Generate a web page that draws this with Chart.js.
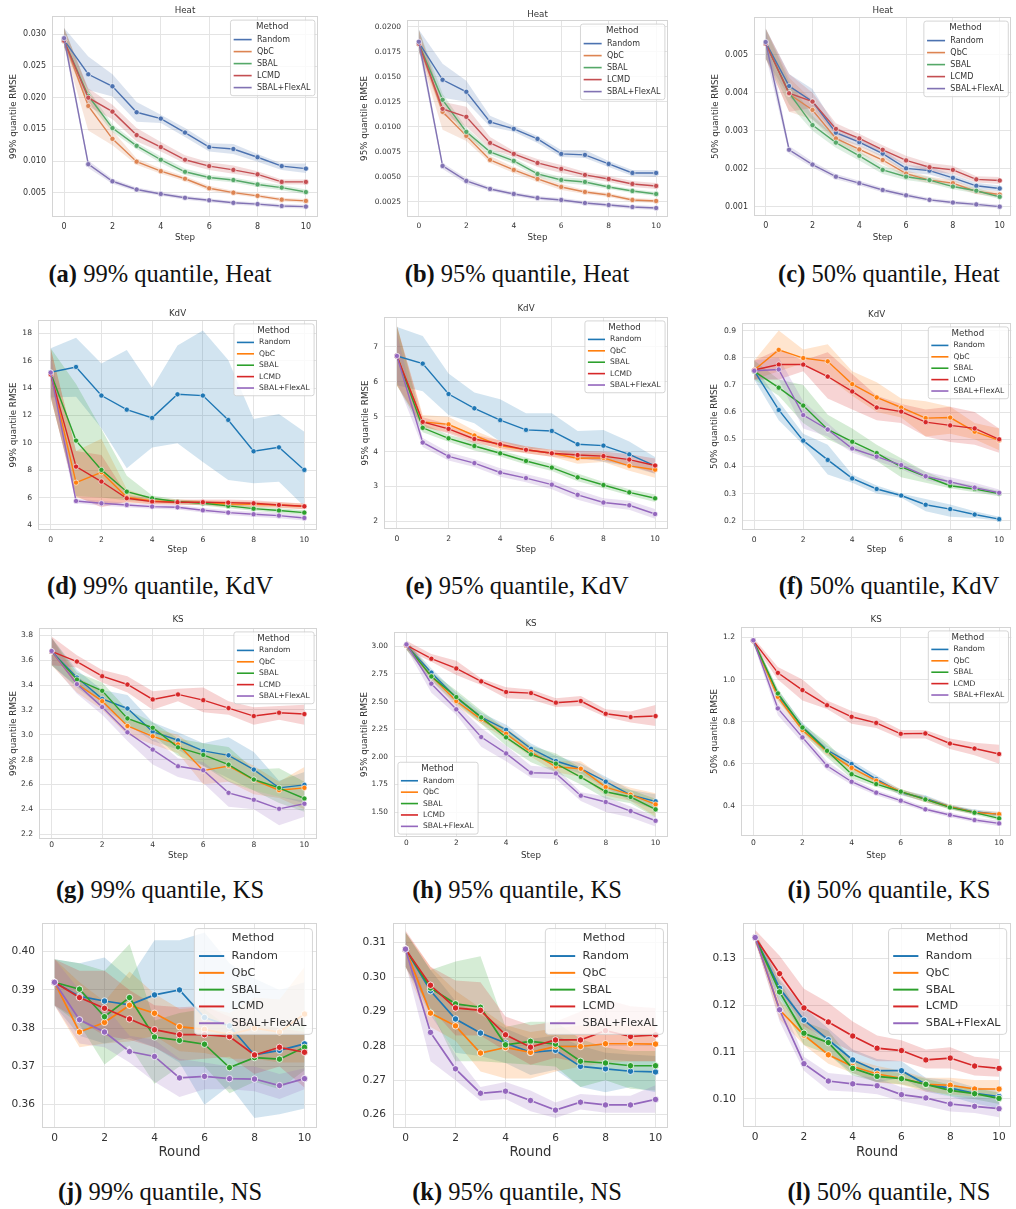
<!DOCTYPE html>
<html>
<head>
<meta charset="utf-8">
<script src="https://cdn.jsdelivr.net/npm/chart.js@4.4.1/dist/chart.umd.min.js"></script>
<style>
  html, body { margin: 0; padding: 0; background: #fff; overflow: hidden; }
  body { width: 1016px; height: 1209px; position: relative; }
  canvas { position: absolute; }
  .cap { position: absolute; width: 360px; text-align: center; font-family: "Liberation Serif", serif;
         font-size: 24.5px; color: #111; white-space: nowrap; line-height: 1; }
</style>
</head>
<body>
<script>
// shared x data
const steps = [0, 1, 2, 3, 4, 5, 6, 7, 8, 9, 10];
const xTicks = [0, 2, 4, 6, 8, 10];
const methods = ['Random', 'QbC', 'SBAL', 'LCMD', 'SBAL+FlexAL'];

// (a) Heat, 99% quantile
const heat99Ticks = [0.005, 0.010, 0.015, 0.020, 0.025, 0.030];
const heat99Random   = [0.0291, 0.0237, 0.0218, 0.0177, 0.0167, 0.0145, 0.0122, 0.0119, 0.0106, 0.0092, 0.0088];
const heat99RandomLo = [0.0280, 0.0212, 0.0202, 0.0162, 0.0160, 0.0138, 0.0115, 0.0111, 0.0099, 0.0086, 0.0081];
const heat99RandomHi = [0.0310, 0.0265, 0.0237, 0.0193, 0.0173, 0.0152, 0.0128, 0.0127, 0.0111, 0.0096, 0.0096];
const heat99Qbc      = [0.0290, 0.0187, 0.0135, 0.0099, 0.0084, 0.0072, 0.0057, 0.0050, 0.0045, 0.0039, 0.0037];
const heat99QbcLo    = [0.0280, 0.0148, 0.0125, 0.0094, 0.0080, 0.0068, 0.0053, 0.0047, 0.0042, 0.0036, 0.0034];
const heat99QbcHi    = [0.0310, 0.0212, 0.0148, 0.0104, 0.0088, 0.0076, 0.0061, 0.0053, 0.0048, 0.0042, 0.0040];
const heat99Sbal     = [0.0290, 0.0203, 0.0152, 0.0124, 0.0102, 0.0083, 0.0074, 0.0070, 0.0063, 0.0058, 0.0051];
const heat99SbalLo   = [0.0280, 0.0193, 0.0146, 0.0119, 0.0097, 0.0078, 0.0070, 0.0066, 0.0059, 0.0054, 0.0047];
const heat99SbalHi   = [0.0310, 0.0213, 0.0158, 0.0129, 0.0107, 0.0088, 0.0078, 0.0074, 0.0067, 0.0062, 0.0055];
const heat99Lcmd     = [0.0290, 0.0200, 0.0178, 0.0141, 0.0122, 0.0102, 0.0092, 0.0086, 0.0079, 0.0067, 0.0067];
const heat99LcmdLo   = [0.0280, 0.0186, 0.0166, 0.0131, 0.0115, 0.0096, 0.0086, 0.0080, 0.0074, 0.0063, 0.0063];
const heat99LcmdHi   = [0.0310, 0.0215, 0.0189, 0.0152, 0.0130, 0.0109, 0.0098, 0.0093, 0.0084, 0.0071, 0.0071];
const heat99Flex     = [0.0294, 0.0095, 0.0068, 0.0055, 0.0048, 0.0042, 0.0038, 0.0034, 0.0032, 0.0029, 0.0028];
const heat99FlexLo   = [0.0285, 0.0089, 0.0064, 0.0052, 0.0045, 0.0039, 0.0035, 0.0031, 0.0029, 0.0026, 0.0025];
const heat99FlexHi   = [0.0303, 0.0101, 0.0072, 0.0058, 0.0051, 0.0045, 0.0041, 0.0037, 0.0035, 0.0032, 0.0031];

// (b) Heat, 95% quantile
const heat95Ticks = [0.0025, 0.0050, 0.0075, 0.0100, 0.0125, 0.0150, 0.0175, 0.0200];
const heat95Random   = [0.0184, 0.0147, 0.0135, 0.0105, 0.0098, 0.0088, 0.0073, 0.0072, 0.0063, 0.0054, 0.0054];
const heat95RandomLo = [0.0175, 0.0129, 0.0125, 0.0100, 0.0095, 0.0084, 0.0070, 0.0069, 0.0060, 0.0051, 0.0050];
const heat95RandomHi = [0.0197, 0.0163, 0.0146, 0.0111, 0.0101, 0.0091, 0.0077, 0.0077, 0.0066, 0.0057, 0.0057];
const heat95Qbc      = [0.0183, 0.0115, 0.0091, 0.0067, 0.0057, 0.0048, 0.0040, 0.0035, 0.0032, 0.0027, 0.0026];
const heat95QbcLo    = [0.0175, 0.0097, 0.0086, 0.0064, 0.0054, 0.0045, 0.0037, 0.0033, 0.0030, 0.0025, 0.0024];
const heat95QbcHi    = [0.0197, 0.0122, 0.0096, 0.0071, 0.0060, 0.0051, 0.0043, 0.0037, 0.0034, 0.0029, 0.0028];
const heat95Sbal     = [0.0183, 0.0127, 0.0095, 0.0075, 0.0066, 0.0053, 0.0047, 0.0045, 0.0040, 0.0036, 0.0033];
const heat95SbalLo   = [0.0175, 0.0121, 0.0091, 0.0072, 0.0063, 0.0050, 0.0044, 0.0042, 0.0038, 0.0034, 0.0031];
const heat95SbalHi   = [0.0197, 0.0133, 0.0099, 0.0078, 0.0069, 0.0056, 0.0050, 0.0048, 0.0042, 0.0038, 0.0035];
const heat95Lcmd     = [0.0183, 0.0118, 0.0110, 0.0084, 0.0073, 0.0064, 0.0058, 0.0052, 0.0048, 0.0043, 0.0041];
const heat95LcmdLo   = [0.0175, 0.0112, 0.0100, 0.0078, 0.0070, 0.0060, 0.0054, 0.0049, 0.0045, 0.0040, 0.0038];
const heat95LcmdHi   = [0.0197, 0.0125, 0.0120, 0.0090, 0.0076, 0.0068, 0.0062, 0.0055, 0.0051, 0.0046, 0.0044];
const heat95Flex     = [0.0185, 0.0061, 0.0046, 0.0038, 0.0033, 0.0029, 0.0027, 0.0024, 0.0022, 0.0020, 0.0019];
const heat95FlexLo   = [0.0177, 0.0058, 0.0043, 0.0036, 0.0031, 0.0027, 0.0025, 0.0022, 0.0020, 0.0018, 0.0017];
const heat95FlexHi   = [0.0193, 0.0064, 0.0049, 0.0040, 0.0035, 0.0031, 0.0029, 0.0026, 0.0024, 0.0022, 0.0021];

// (c) Heat, 50% quantile
const heat50Ticks = [0.001, 0.002, 0.003, 0.004, 0.005];
const heat50Random   = [0.00533, 0.00418, 0.00377, 0.00295, 0.00270, 0.00240, 0.00201, 0.00195, 0.00176, 0.00155, 0.00148];
const heat50RandomLo = [0.00490, 0.00390, 0.00330, 0.00280, 0.00260, 0.00230, 0.00190, 0.00185, 0.00167, 0.00147, 0.00140];
const heat50RandomHi = [0.00570, 0.00450, 0.00410, 0.00310, 0.00280, 0.00250, 0.00210, 0.00205, 0.00185, 0.00163, 0.00156];
const heat50Qbc      = [0.00530, 0.00397, 0.00355, 0.00280, 0.00251, 0.00223, 0.00187, 0.00170, 0.00162, 0.00140, 0.00132];
const heat50QbcLo    = [0.00490, 0.00350, 0.00330, 0.00270, 0.00240, 0.00212, 0.00178, 0.00161, 0.00154, 0.00133, 0.00125];
const heat50QbcHi    = [0.00570, 0.00440, 0.00380, 0.00290, 0.00262, 0.00234, 0.00196, 0.00179, 0.00170, 0.00147, 0.00139];
const heat50Sbal     = [0.00530, 0.00400, 0.00315, 0.00269, 0.00234, 0.00197, 0.00179, 0.00170, 0.00153, 0.00142, 0.00126];
const heat50SbalLo   = [0.00490, 0.00370, 0.00300, 0.00255, 0.00222, 0.00186, 0.00170, 0.00162, 0.00146, 0.00135, 0.00120];
const heat50SbalHi   = [0.00570, 0.00430, 0.00340, 0.00283, 0.00246, 0.00208, 0.00188, 0.00178, 0.00160, 0.00149, 0.00132];
const heat50Lcmd     = [0.00530, 0.00399, 0.00377, 0.00305, 0.00280, 0.00250, 0.00222, 0.00204, 0.00197, 0.00172, 0.00169];
const heat50LcmdLo   = [0.00490, 0.00350, 0.00360, 0.00290, 0.00268, 0.00238, 0.00210, 0.00193, 0.00186, 0.00164, 0.00160];
const heat50LcmdHi   = [0.00570, 0.00450, 0.00400, 0.00320, 0.00292, 0.00262, 0.00234, 0.00215, 0.00208, 0.00180, 0.00178];
const heat50Flex     = [0.00534, 0.00250, 0.00211, 0.00179, 0.00162, 0.00144, 0.00130, 0.00118, 0.00111, 0.00106, 0.00100];
const heat50FlexLo   = [0.00500, 0.00240, 0.00203, 0.00172, 0.00156, 0.00138, 0.00124, 0.00113, 0.00106, 0.00101, 0.00095];
const heat50FlexHi   = [0.00570, 0.00260, 0.00219, 0.00186, 0.00168, 0.00150, 0.00136, 0.00123, 0.00116, 0.00111, 0.00105];

// (d) KdV, 99% quantile
const kdv99Ticks = [4, 6, 8, 10, 12, 14, 16, 18];
const kdv99Random   = [15.15, 15.54, 13.45, 12.42, 11.82, 13.54, 13.45, 11.67, 9.38, 9.67, 8.02];
const kdv99RandomLo = [13.3, 13.37, 11.06, 8.14, 9.65, 9.96, 8.6, 7.29, 7.04, 7.16, 5.34];
const kdv99RandomHi = [16.9, 17.68, 15.8, 16.78, 14.03, 17.1, 18.2, 16.05, 11.74, 12.1, 10.8];
const kdv99Qbc      = [15.0, 7.09, 7.85, 6.02, 5.75, 5.68, 5.63, 5.53, 5.5, 5.46, 5.36];
const kdv99QbcLo    = [13.3, 6.0, 5.5, 5.6, 5.55, 5.5, 5.45, 5.3, 5.3, 5.25, 5.15];
const kdv99QbcHi    = [16.9, 9.4, 10.3, 6.6, 5.95, 5.85, 5.8, 5.75, 5.7, 5.65, 5.55];
const kdv99Sbal     = [15.1, 10.16, 8.02, 6.43, 5.95, 5.7, 5.58, 5.39, 5.19, 5.05, 4.9];
const kdv99SbalLo   = [13.3, 6.1, 6.0, 5.8, 5.7, 5.55, 5.42, 5.22, 5.03, 4.88, 4.72];
const kdv99SbalHi   = [16.9, 14.3, 11.0, 7.6, 6.15, 5.85, 5.74, 5.56, 5.35, 5.22, 5.08];
const kdv99Lcmd     = [15.0, 8.26, 7.17, 5.95, 5.7, 5.66, 5.66, 5.63, 5.58, 5.46, 5.36];
const kdv99LcmdLo   = [13.3, 6.1, 5.3, 5.7, 5.5, 5.48, 5.46, 5.4, 5.35, 5.25, 5.15];
const kdv99LcmdHi   = [16.9, 9.4, 9.1, 6.2, 5.9, 5.84, 5.86, 5.86, 5.8, 5.67, 5.57];
const kdv99Flex     = [15.13, 5.75, 5.58, 5.46, 5.34, 5.29, 5.07, 4.9, 4.78, 4.68, 4.51];
const kdv99FlexLo   = [13.6, 5.58, 5.4, 5.3, 5.18, 5.13, 4.9, 4.72, 4.6, 4.48, 4.32];
const kdv99FlexHi   = [16.6, 5.92, 5.76, 5.62, 5.5, 5.45, 5.24, 5.08, 4.96, 4.88, 4.7];

// (e) KdV, 95% quantile
const kdv95Ticks = [2, 3, 4, 5, 6, 7];
const kdv95Random   = [6.74, 6.52, 5.65, 5.24, 4.9, 4.62, 4.59, 4.21, 4.17, 3.92, 3.59];
const kdv95RandomLo = [5.9, 5.73, 5.05, 4.81, 4.29, 4.08, 4.05, 3.83, 3.71, 3.57, 3.36];
const kdv95RandomHi = [7.57, 7.31, 6.24, 5.69, 5.5, 5.1, 5.1, 4.59, 4.62, 4.29, 3.84];
const kdv95Qbc      = [6.74, 4.85, 4.78, 4.46, 4.17, 4.05, 3.95, 3.81, 3.82, 3.59, 3.48];
const kdv95QbcLo    = [5.9, 4.7, 4.55, 4.3, 4.05, 3.95, 3.85, 3.65, 3.7, 3.45, 3.25];
const kdv95QbcHi    = [7.6, 5.05, 5.0, 4.6, 4.3, 4.15, 4.05, 3.95, 3.95, 3.72, 3.65];
const kdv95Sbal     = [6.74, 4.68, 4.38, 4.16, 3.95, 3.73, 3.54, 3.26, 3.04, 2.83, 2.66];
const kdv95SbalLo   = [5.9, 4.55, 4.28, 4.03, 3.86, 3.63, 3.44, 3.15, 2.95, 2.74, 2.55];
const kdv95SbalHi   = [7.6, 4.8, 4.48, 4.28, 4.04, 3.83, 3.64, 3.37, 3.13, 2.92, 2.77];
const kdv95Lcmd     = [6.74, 4.85, 4.65, 4.36, 4.21, 4.05, 3.95, 3.9, 3.87, 3.77, 3.6];
const kdv95LcmdLo   = [5.9, 4.72, 4.52, 4.24, 4.1, 3.95, 3.85, 3.78, 3.74, 3.6, 3.38];
const kdv95LcmdHi   = [7.6, 4.98, 4.78, 4.48, 4.32, 4.15, 4.05, 4.02, 4.0, 3.92, 3.8];
const kdv95Flex     = [6.74, 4.26, 3.86, 3.67, 3.4, 3.24, 3.05, 2.76, 2.54, 2.46, 2.21];
const kdv95FlexLo   = [6.0, 4.13, 3.74, 3.56, 3.28, 3.12, 2.92, 2.62, 2.42, 2.33, 2.07];
const kdv95FlexHi   = [7.4, 4.39, 3.98, 3.78, 3.52, 3.36, 3.18, 2.9, 2.66, 2.59, 2.35];

// (f) KdV, 50% quantile
const kdv50Ticks = [0.2, 0.3, 0.4, 0.5, 0.6, 0.7, 0.8, 0.9];
const kdv50Random   = [0.752, 0.608, 0.495, 0.424, 0.356, 0.317, 0.293, 0.259, 0.243, 0.223, 0.206];
const kdv50RandomLo = [0.72, 0.57, 0.48, 0.37, 0.34, 0.30, 0.285, 0.235, 0.215, 0.21, 0.20];
const kdv50RandomHi = [0.77, 0.64, 0.52, 0.48, 0.37, 0.33, 0.30, 0.28, 0.26, 0.235, 0.215];
const kdv50Qbc      = [0.755, 0.829, 0.799, 0.787, 0.703, 0.654, 0.617, 0.578, 0.58, 0.528, 0.496];
const kdv50QbcLo    = [0.72, 0.75, 0.78, 0.73, 0.66, 0.60, 0.58, 0.51, 0.52, 0.50, 0.46];
const kdv50QbcHi    = [0.79, 0.90, 0.83, 0.85, 0.75, 0.71, 0.65, 0.64, 0.62, 0.56, 0.54];
const kdv50Sbal     = [0.75, 0.69, 0.624, 0.536, 0.491, 0.449, 0.398, 0.363, 0.329, 0.317, 0.30];
const kdv50SbalLo   = [0.72, 0.66, 0.56, 0.50, 0.46, 0.42, 0.36, 0.34, 0.32, 0.305, 0.29];
const kdv50SbalHi   = [0.79, 0.72, 0.70, 0.59, 0.54, 0.48, 0.43, 0.38, 0.345, 0.33, 0.31];
const kdv50Lcmd     = [0.755, 0.775, 0.775, 0.731, 0.676, 0.617, 0.602, 0.563, 0.551, 0.54, 0.50];
const kdv50LcmdLo   = [0.72, 0.72, 0.75, 0.65, 0.61, 0.57, 0.56, 0.51, 0.49, 0.48, 0.45];
const kdv50LcmdHi   = [0.79, 0.83, 0.79, 0.82, 0.74, 0.66, 0.63, 0.61, 0.62, 0.60, 0.54];
const kdv50Flex     = [0.752, 0.757, 0.589, 0.536, 0.466, 0.436, 0.405, 0.364, 0.343, 0.322, 0.303];
const kdv50FlexLo   = [0.72, 0.72, 0.54, 0.51, 0.45, 0.42, 0.39, 0.35, 0.33, 0.31, 0.295];
const kdv50FlexHi   = [0.79, 0.80, 0.64, 0.56, 0.48, 0.45, 0.42, 0.38, 0.36, 0.34, 0.315];

// (g) KS, 99% quantile
const ks99Ticks = [2.2, 2.4, 2.6, 2.8, 3.0, 3.2, 3.4, 3.6, 3.8];
const ks99Random   = [3.67, 3.46, 3.289, 3.211, 3.024, 2.955, 2.869, 2.834, 2.719, 2.572, 2.596];
const ks99RandomLo = [3.56, 3.38, 3.22, 3.08, 2.95, 2.88, 2.75, 2.65, 2.55, 2.5, 2.45];
const ks99RandomHi = [3.78, 3.52, 3.36, 3.32, 3.1, 3.02, 2.93, 2.98, 2.86, 2.63, 2.7];
const ks99Qbc      = [3.67, 3.41, 3.27, 3.07, 2.987, 2.922, 2.711, 2.748, 2.636, 2.553, 2.572];
const ks99QbcLo    = [3.56, 3.34, 3.2, 3.0, 2.92, 2.85, 2.6, 2.62, 2.52, 2.49, 2.4];
const ks99QbcHi    = [3.78, 3.47, 3.34, 3.13, 3.05, 3.0, 2.85, 2.85, 2.75, 2.62, 2.74];
const ks99Sbal     = [3.67, 3.444, 3.353, 3.131, 3.056, 2.898, 2.837, 2.759, 2.639, 2.572, 2.486];
const ks99SbalLo   = [3.56, 3.39, 3.28, 3.07, 3.0, 2.83, 2.75, 2.62, 2.55, 2.45, 2.38];
const ks99SbalHi   = [3.78, 3.5, 3.42, 3.2, 3.1, 2.97, 2.93, 2.9, 2.72, 2.73, 2.62];
const ks99Lcmd     = [3.67, 3.589, 3.471, 3.404, 3.284, 3.324, 3.278, 3.214, 3.15, 3.177, 3.166];
const ks99LcmdLo   = [3.56, 3.54, 3.42, 3.34, 3.2, 3.27, 3.18, 3.16, 3.08, 3.12, 3.08];
const ks99LcmdHi   = [3.79, 3.64, 3.52, 3.47, 3.35, 3.37, 3.38, 3.27, 3.22, 3.23, 3.24];
const ks99Flex     = [3.674, 3.407, 3.222, 3.019, 2.88, 2.746, 2.714, 2.532, 2.476, 2.403, 2.444];
const ks99FlexLo   = [3.57, 3.33, 3.16, 2.95, 2.76, 2.66, 2.61, 2.42, 2.4, 2.27, 2.34];
const ks99FlexHi   = [3.78, 3.45, 3.28, 3.08, 2.98, 2.81, 2.78, 2.63, 2.55, 2.5, 2.47];

// (h) KS, 95% quantile
const ks95Ticks = [1.50, 1.75, 2.00, 2.25, 2.50, 2.75, 3.00];
const ks95Random   = [3.01, 2.762, 2.535, 2.36, 2.245, 2.073, 1.962, 1.892, 1.775, 1.654, 1.597];
const ks95RandomLo = [2.97, 2.72, 2.49, 2.32, 2.2, 2.03, 1.92, 1.85, 1.72, 1.6, 1.52];
const ks95RandomHi = [3.05, 2.8, 2.58, 2.4, 2.29, 2.12, 2.01, 1.94, 1.82, 1.7, 1.66];
const ks95Qbc      = [3.01, 2.728, 2.505, 2.339, 2.209, 2.043, 1.91, 1.892, 1.726, 1.657, 1.569];
const ks95QbcLo    = [2.97, 2.69, 2.46, 2.3, 2.16, 2.0, 1.86, 1.82, 1.65, 1.6, 1.46];
const ks95QbcHi    = [3.05, 2.77, 2.55, 2.38, 2.26, 2.09, 1.96, 1.96, 1.8, 1.72, 1.67];
const ks95Sbal     = [3.01, 2.728, 2.541, 2.357, 2.176, 2.022, 1.938, 1.817, 1.684, 1.636, 1.524];
const ks95SbalLo   = [2.97, 2.69, 2.48, 2.3, 2.1, 1.95, 1.86, 1.75, 1.62, 1.58, 1.45];
const ks95SbalHi   = [3.05, 2.77, 2.6, 2.42, 2.25, 2.1, 2.03, 1.9, 1.75, 1.7, 1.62];
const ks95Lcmd     = [3.01, 2.888, 2.8, 2.683, 2.587, 2.577, 2.49, 2.505, 2.39, 2.36, 2.369];
const ks95LcmdLo   = [2.97, 2.86, 2.74, 2.65, 2.53, 2.52, 2.45, 2.46, 2.36, 2.31, 2.28];
const ks95LcmdHi   = [3.05, 2.93, 2.87, 2.71, 2.63, 2.61, 2.53, 2.55, 2.43, 2.41, 2.47];
const ks95Flex     = [3.018, 2.662, 2.43, 2.179, 2.031, 1.856, 1.85, 1.648, 1.591, 1.509, 1.421];
const ks95FlexLo   = [2.98, 2.58, 2.38, 2.09, 1.96, 1.81, 1.8, 1.6, 1.5, 1.45, 1.37];
const ks95FlexHi   = [3.05, 2.72, 2.48, 2.26, 2.1, 1.92, 1.9, 1.68, 1.64, 1.55, 1.46];

// (i) KS, 50% quantile
const ks50Ticks = [0.4, 0.6, 0.8, 1.0, 1.2];
const ks50Random   = [1.185, 0.926, 0.775, 0.665, 0.598, 0.527, 0.463, 0.435, 0.395, 0.371, 0.359];
const ks50RandomLo = [1.17, 0.90, 0.755, 0.645, 0.58, 0.51, 0.45, 0.42, 0.385, 0.36, 0.348];
const ks50RandomHi = [1.2, 0.95, 0.795, 0.685, 0.615, 0.545, 0.476, 0.45, 0.405, 0.382, 0.37];
const ks50Qbc      = [1.185, 0.918, 0.76, 0.657, 0.58, 0.519, 0.467, 0.43, 0.395, 0.368, 0.36];
const ks50QbcLo    = [1.17, 0.895, 0.74, 0.64, 0.56, 0.505, 0.455, 0.415, 0.385, 0.358, 0.35];
const ks50QbcHi    = [1.2, 0.94, 0.78, 0.675, 0.6, 0.533, 0.48, 0.445, 0.405, 0.378, 0.37];
const ks50Sbal     = [1.185, 0.934, 0.772, 0.661, 0.55, 0.503, 0.467, 0.43, 0.392, 0.367, 0.34];
const ks50SbalLo   = [1.17, 0.91, 0.75, 0.63, 0.53, 0.49, 0.455, 0.418, 0.382, 0.357, 0.33];
const ks50SbalHi   = [1.2, 0.955, 0.79, 0.7, 0.58, 0.516, 0.478, 0.442, 0.402, 0.377, 0.35];
const ks50Lcmd     = [1.185, 1.032, 0.95, 0.878, 0.823, 0.794, 0.742, 0.744, 0.696, 0.672, 0.646];
const ks50LcmdLo   = [1.17, 1.0, 0.9, 0.86, 0.79, 0.77, 0.72, 0.72, 0.67, 0.64, 0.6];
const ks50LcmdHi   = [1.2, 1.06, 1.0, 0.9, 0.85, 0.82, 0.76, 0.76, 0.72, 0.7, 0.69];
const ks50Flex     = [1.187, 0.863, 0.725, 0.59, 0.514, 0.462, 0.424, 0.383, 0.356, 0.332, 0.316];
const ks50FlexLo   = [1.17, 0.83, 0.7, 0.57, 0.5, 0.45, 0.412, 0.372, 0.345, 0.321, 0.303];
const ks50FlexHi   = [1.2, 0.89, 0.75, 0.61, 0.53, 0.474, 0.436, 0.394, 0.367, 0.343, 0.329];

// (j) NS, 99% quantile
const ns99Ticks = [0.36, 0.37, 0.38, 0.39, 0.40];
const ns99Random   = [0.392, 0.3883, 0.3871, 0.3861, 0.3887, 0.390, 0.3828, 0.3806, 0.373, 0.3742, 0.3759];
const ns99RandomLo = [0.386, 0.378, 0.376, 0.3775, 0.375, 0.371, 0.360, 0.365, 0.3565, 0.3575, 0.359];
const ns99RandomHi = [0.398, 0.397, 0.3985, 0.393, 0.403, 0.403, 0.405, 0.397, 0.393, 0.390, 0.392];
const ns99Qbc      = [0.392, 0.379, 0.3815, 0.386, 0.3839, 0.3804, 0.3797, 0.3783, 0.380, 0.379, 0.3837];
const ns99QbcLo    = [0.386, 0.375, 0.376, 0.3765, 0.378, 0.374, 0.3735, 0.372, 0.372, 0.371, 0.371];
const ns99QbcHi    = [0.398, 0.392, 0.387, 0.3948, 0.389, 0.385, 0.3855, 0.384, 0.388, 0.3875, 0.396];
const ns99Sbal     = [0.392, 0.3902, 0.383, 0.388, 0.3777, 0.3768, 0.3758, 0.3697, 0.3723, 0.3719, 0.375];
const ns99SbalLo   = [0.386, 0.381, 0.3705, 0.3755, 0.3655, 0.370, 0.370, 0.363, 0.366, 0.364, 0.369];
const ns99SbalHi   = [0.398, 0.397, 0.395, 0.402, 0.382, 0.384, 0.385, 0.380, 0.381, 0.380, 0.381];
const ns99Lcmd     = [0.392, 0.388, 0.3852, 0.3824, 0.3796, 0.3783, 0.3783, 0.3778, 0.373, 0.375, 0.3737];
const ns99LcmdLo   = [0.386, 0.382, 0.378, 0.377, 0.375, 0.3715, 0.372, 0.3725, 0.368, 0.370, 0.3645];
const ns99LcmdHi   = [0.398, 0.395, 0.395, 0.390, 0.386, 0.3855, 0.3858, 0.383, 0.381, 0.380, 0.379];
const ns99Flex     = [0.392, 0.3822, 0.379, 0.3739, 0.3726, 0.367, 0.3674, 0.3668, 0.3667, 0.365, 0.3668];
const ns99FlexLo   = [0.386, 0.376, 0.375, 0.371, 0.366, 0.362, 0.364, 0.364, 0.3635, 0.3615, 0.364];
const ns99FlexHi   = [0.398, 0.390, 0.386, 0.378, 0.377, 0.372, 0.371, 0.370, 0.370, 0.368, 0.3695];

// (k) NS, 95% quantile
const ns95Ticks = [0.26, 0.27, 0.28, 0.29, 0.30, 0.31];
const ns95Random   = [0.3081, 0.296, 0.2878, 0.2837, 0.2808, 0.2781, 0.2787, 0.274, 0.2733, 0.2726, 0.2724];
const ns95RandomLo = [0.303, 0.289, 0.278, 0.277, 0.275, 0.2715, 0.273, 0.268, 0.2665, 0.268, 0.2665];
const ns95RandomHi = [0.313, 0.302, 0.293, 0.289, 0.285, 0.282, 0.283, 0.280, 0.278, 0.2775, 0.277];
const ns95Qbc      = [0.3081, 0.2895, 0.2858, 0.2779, 0.2795, 0.2781, 0.2798, 0.2798, 0.2806, 0.2806, 0.2805];
const ns95QbcLo    = [0.303, 0.2855, 0.2815, 0.2725, 0.2705, 0.2705, 0.2725, 0.274, 0.275, 0.2755, 0.2755];
const ns95QbcHi    = [0.313, 0.303, 0.296, 0.291, 0.286, 0.284, 0.285, 0.286, 0.286, 0.286, 0.286];
const ns95Sbal     = [0.3081, 0.2968, 0.2922, 0.2912, 0.2803, 0.2813, 0.2805, 0.2755, 0.275, 0.2742, 0.2742];
const ns95SbalLo   = [0.303, 0.2905, 0.2755, 0.2755, 0.275, 0.2745, 0.274, 0.268, 0.270, 0.2675, 0.267];
const ns95SbalHi   = [0.313, 0.302, 0.3045, 0.306, 0.2855, 0.287, 0.287, 0.282, 0.2795, 0.2785, 0.2785];
const ns95Lcmd     = [0.3081, 0.2976, 0.291, 0.2903, 0.2832, 0.2796, 0.2817, 0.2817, 0.2844, 0.2827, 0.2832];
const ns95LcmdLo   = [0.303, 0.291, 0.283, 0.283, 0.2785, 0.2745, 0.2765, 0.275, 0.276, 0.2755, 0.2755];
const ns95LcmdHi   = [0.3135, 0.303, 0.299, 0.2985, 0.2885, 0.286, 0.287, 0.290, 0.2935, 0.2915, 0.291];
const ns95Flex     = [0.3081, 0.2839, 0.2733, 0.2662, 0.2668, 0.2641, 0.2613, 0.2636, 0.2628, 0.2628, 0.2644];
const ns95FlexLo   = [0.304, 0.2755, 0.270, 0.264, 0.2645, 0.261, 0.259, 0.2615, 0.2605, 0.2605, 0.2605];
const ns95FlexHi   = [0.311, 0.290, 0.2775, 0.268, 0.2695, 0.267, 0.2635, 0.266, 0.2655, 0.2655, 0.2685];

// (l) NS, 50% quantile
const ns50Ticks = [0.10, 0.11, 0.12, 0.13];
const ns50Random   = [0.1344, 0.1236, 0.1168, 0.1126, 0.1083, 0.106, 0.106, 0.1031, 0.1023, 0.1012, 0.1005];
const ns50RandomLo = [0.1335, 0.1215, 0.1135, 0.1095, 0.1055, 0.1035, 0.1045, 0.1015, 0.1005, 0.099, 0.098];
const ns50RandomHi = [0.1355, 0.1255, 0.1195, 0.115, 0.1105, 0.1085, 0.108, 0.1045, 0.104, 0.1025, 0.102];
const ns50Qbc      = [0.1344, 0.119, 0.1136, 0.1094, 0.1069, 0.1053, 0.1044, 0.1031, 0.1029, 0.1021, 0.1021];
const ns50QbcLo    = [0.1335, 0.117, 0.1115, 0.1075, 0.1055, 0.1035, 0.103, 0.1015, 0.101, 0.1005, 0.1005];
const ns50QbcHi    = [0.1355, 0.121, 0.116, 0.1115, 0.1085, 0.107, 0.106, 0.1045, 0.1045, 0.104, 0.104];
const ns50Sbal     = [0.1344, 0.1228, 0.114, 0.112, 0.1065, 0.1048, 0.1043, 0.1031, 0.1018, 0.1011, 0.1001];
const ns50SbalLo   = [0.1335, 0.1205, 0.1115, 0.1095, 0.105, 0.1036, 0.1031, 0.1019, 0.1006, 0.0999, 0.0989];
const ns50SbalHi   = [0.1355, 0.125, 0.1165, 0.1145, 0.108, 0.106, 0.1055, 0.1043, 0.103, 0.1023, 0.1013];
const ns50Lcmd     = [0.1344, 0.1267, 0.1194, 0.1164, 0.1134, 0.1108, 0.1103, 0.1083, 0.1087, 0.107, 0.1065];
const ns50LcmdLo   = [0.133, 0.123, 0.1155, 0.1125, 0.110, 0.108, 0.108, 0.1065, 0.1065, 0.105, 0.1047];
const ns50LcmdHi   = [0.136, 0.1305, 0.1235, 0.1205, 0.1165, 0.1135, 0.1125, 0.1105, 0.111, 0.109, 0.1085];
const ns50Flex     = [0.1344, 0.119, 0.1075, 0.1038, 0.1032, 0.1028, 0.1009, 0.1002, 0.0989, 0.0984, 0.0979];
const ns50FlexLo   = [0.1335, 0.1165, 0.106, 0.1018, 0.1015, 0.101, 0.0995, 0.0985, 0.0973, 0.097, 0.0961];
const ns50FlexHi   = [0.1355, 0.1215, 0.109, 0.1055, 0.105, 0.1045, 0.1025, 0.102, 0.1005, 0.1005, 0.0997];

// palettes: seaborn "deep" for the Heat row, tab10 for the rest
const deep = ['#4c72b0', '#dd8452', '#55a868', '#c44e52', '#8172b3'];
const tab10 = ['#1f77b4', '#ff7f0e', '#2ca02c', '#d62728', '#9467bd'];
const ink = '#333333';
const font = '"DejaVu Sans", sans-serif';

const small = { fs: 8, ls: 8.7, lg: 8, lgt: 8.7, lw: 1.4, pr: 2.6, pb: 0.6, ytp: 6, xtp: 5 };
const big = { fs: 10.6, ls: 13.3, lg: 11.2, lgt: 11.3, lw: 1.7, pr: 3.2, pb: 0.8, ytp: 7, xtp: 4 };
const mid = Object.assign({}, small, { fs: 7.6, lg: 7.6 });
const ksRow = Object.assign({}, small, { fs: 7.6, lg: 7.6, xtp: 1 });

const panels = [
  { tag: '(a)', cap: '99% quantile, Heat', title: 'Heat', yLabel: '99% quantile RMSE', xLabel: 'Step', colors: deep,
    series: [[heat99Random, heat99RandomLo, heat99RandomHi], [heat99Qbc, heat99QbcLo, heat99QbcHi], [heat99Sbal, heat99SbalLo, heat99SbalHi], [heat99Lcmd, heat99LcmdLo, heat99LcmdHi], [heat99Flex, heat99FlexLo, heat99FlexHi]],
    yMin: 0.00116, yMax: 0.0329, yTicks: heat99Ticks, dec: 3,
    col: 0, rowTop: 0, plot: [52, 16, 318, 217], titleY: 10.7, yLabX: 13.3, xLabY: 238, capX: 160, capY: 274, st: small, legend: 'tr' },
  { tag: '(b)', cap: '95% quantile, Heat', title: 'Heat', yLabel: '95% quantile RMSE', xLabel: 'Step', colors: deep,
    series: [[heat95Random, heat95RandomLo, heat95RandomHi], [heat95Qbc, heat95QbcLo, heat95QbcHi], [heat95Sbal, heat95SbalLo, heat95SbalHi], [heat95Lcmd, heat95LcmdLo, heat95LcmdHi], [heat95Flex, heat95FlexLo, heat95FlexHi]],
    yMin: 0.0010, yMax: 0.02067, yTicks: heat95Ticks, dec: 4,
    col: 345, rowTop: 0, plot: [407, 20, 668, 217], titleY: 15, yLabX: 365, xLabY: 238, capX: 517, capY: 274, st: Object.assign({}, small, { fs: 7.5 }), legend: 'tr' },
  { tag: '(c)', cap: '50% quantile, Heat', title: 'Heat', yLabel: '50% quantile RMSE', xLabel: 'Step', colors: deep,
    series: [[heat50Random, heat50RandomLo, heat50RandomHi], [heat50Qbc, heat50QbcLo, heat50QbcHi], [heat50Sbal, heat50SbalLo, heat50SbalHi], [heat50Lcmd, heat50LcmdLo, heat50LcmdHi], [heat50Flex, heat50FlexLo, heat50FlexHi]],
    yMin: 0.000754, yMax: 0.0060, yTicks: heat50Ticks, dec: 3,
    col: 685, rowTop: 0, plot: [754, 17, 1015, 216], titleY: 10.7, yLabX: 716, xLabY: 238, capX: 889, capY: 274, st: small, legend: 'tr' },
  { tag: '(d)', cap: '99% quantile, KdV', title: 'KdV', yLabel: '99% quantile RMSE', xLabel: 'Step', colors: tab10,
    series: [[kdv99Random, kdv99RandomLo, kdv99RandomHi], [kdv99Qbc, kdv99QbcLo, kdv99QbcHi], [kdv99Sbal, kdv99SbalLo, kdv99SbalHi], [kdv99Lcmd, kdv99LcmdLo, kdv99LcmdHi], [kdv99Flex, kdv99FlexLo, kdv99FlexHi]],
    yMin: 3.63, yMax: 18.97, yTicks: kdv99Ticks, dec: 0,
    col: 0, rowTop: 296, plot: [38, 320, 317, 530], titleY: 313.3, yLabX: 13.3, xLabY: 550, capX: 160, capY: 586, st: mid, legend: 'tr' },
  { tag: '(e)', cap: '95% quantile, KdV', title: 'KdV', yLabel: '95% quantile RMSE', xLabel: 'Step', colors: tab10,
    series: [[kdv95Random, kdv95RandomLo, kdv95RandomHi], [kdv95Qbc, kdv95QbcLo, kdv95QbcHi], [kdv95Sbal, kdv95SbalLo, kdv95SbalHi], [kdv95Lcmd, kdv95LcmdLo, kdv95LcmdHi], [kdv95Flex, kdv95FlexLo, kdv95FlexHi]],
    yMin: 1.78, yMax: 7.857, yTicks: kdv95Ticks, dec: 0,
    col: 345, rowTop: 296, plot: [384, 317, 668, 529], titleY: 309, yLabX: 365.7, xLabY: 550, capX: 517, capY: 586, st: mid, legend: 'tr' },
  { tag: '(f)', cap: '50% quantile, KdV', title: 'KdV', yLabel: '50% quantile RMSE', xLabel: 'Step', colors: tab10,
    series: [[kdv50Random, kdv50RandomLo, kdv50RandomHi], [kdv50Qbc, kdv50QbcLo, kdv50QbcHi], [kdv50Sbal, kdv50SbalLo, kdv50SbalHi], [kdv50Lcmd, kdv50LcmdLo, kdv50LcmdHi], [kdv50Flex, kdv50FlexLo, kdv50FlexHi]],
    yMin: 0.166, yMax: 0.928, yTicks: kdv50Ticks, dec: 1,
    col: 685, rowTop: 296, plot: [742, 323, 1015, 530], titleY: 314.3, yLabX: 715, xLabY: 550, capX: 889, capY: 586, st: mid, legend: 'tr' },
  { tag: '(g)', cap: '99% quantile, KS', title: 'KS', yLabel: '99% quantile RMSE', xLabel: 'Step', colors: tab10,
    series: [[ks99Random, ks99RandomLo, ks99RandomHi], [ks99Qbc, ks99QbcLo, ks99QbcHi], [ks99Sbal, ks99SbalLo, ks99SbalHi], [ks99Lcmd, ks99LcmdLo, ks99LcmdHi], [ks99Flex, ks99FlexLo, ks99FlexHi]],
    yMin: 2.16, yMax: 3.859, yTicks: ks99Ticks, dec: 1,
    col: 0, rowTop: 610, plot: [39, 628, 317, 839], titleY: 620, yLabX: 13.3, xLabY: 856, capX: 160, capY: 890, st: ksRow, legend: 'tr' },
  { tag: '(h)', cap: '95% quantile, KS', title: 'KS', yLabel: '95% quantile RMSE', xLabel: 'Step', colors: tab10,
    series: [[ks95Random, ks95RandomLo, ks95RandomHi], [ks95Qbc, ks95QbcLo, ks95QbcHi], [ks95Sbal, ks95SbalLo, ks95SbalHi], [ks95Lcmd, ks95LcmdLo, ks95LcmdHi], [ks95Flex, ks95FlexLo, ks95FlexHi]],
    yMin: 1.274, yMax: 3.13, yTicks: ks95Ticks, dec: 2,
    col: 345, rowTop: 610, plot: [394, 632, 668, 837], titleY: 624, yLabX: 365, xLabY: 856, capX: 517, capY: 890, st: Object.assign({}, ksRow, { fs: 7.4, xtp: 2 }), legend: 'bl' },
  { tag: '(i)', cap: '50% quantile, KS', title: 'KS', yLabel: '50% quantile RMSE', xLabel: 'Step', colors: tab10,
    series: [[ks50Random, ks50RandomLo, ks50RandomHi], [ks50Qbc, ks50QbcLo, ks50QbcHi], [ks50Sbal, ks50SbalLo, ks50SbalHi], [ks50Lcmd, ks50LcmdLo, ks50LcmdHi], [ks50Flex, ks50FlexLo, ks50FlexHi]],
    yMin: 0.256, yMax: 1.25, yTicks: ks50Ticks, dec: 1,
    col: 685, rowTop: 610, plot: [741, 627, 1015, 836], titleY: 620, yLabX: 715, xLabY: 856, capX: 889, capY: 890, st: Object.assign({}, ksRow, { xtp: 2 }), legend: 'tr' },
  { tag: '(j)', cap: '99% quantile, NS', title: '', yLabel: '', xLabel: 'Round', colors: tab10,
    series: [[ns99Random, ns99RandomLo, ns99RandomHi], [ns99Qbc, ns99QbcLo, ns99QbcHi], [ns99Sbal, ns99SbalLo, ns99SbalHi], [ns99Lcmd, ns99LcmdLo, ns99LcmdHi], [ns99Flex, ns99FlexLo, ns99FlexHi]],
    yMin: 0.3539, yMax: 0.4075, yTicks: ns99Ticks, dec: 2,
    col: 0, rowTop: 905, plot: [42, 923, 317, 1128], titleY: 0, yLabX: 0, xLabY: 1153, capX: 160, capY: 1192, st: big, legend: 'tr' },
  { tag: '(k)', cap: '95% quantile, NS', title: '', yLabel: '', xLabel: 'Round', colors: tab10,
    series: [[ns95Random, ns95RandomLo, ns95RandomHi], [ns95Qbc, ns95QbcLo, ns95QbcHi], [ns95Sbal, ns95SbalLo, ns95SbalHi], [ns95Lcmd, ns95LcmdLo, ns95LcmdHi], [ns95Flex, ns95FlexLo, ns95FlexHi]],
    yMin: 0.2561, yMax: 0.3157, yTicks: ns95Ticks, dec: 2,
    col: 345, rowTop: 905, plot: [393, 923, 668, 1128], titleY: 0, yLabX: 0, xLabY: 1153, capX: 517, capY: 1192, st: big, legend: 'tr' },
  { tag: '(l)', cap: '50% quantile, NS', title: '', yLabel: '', xLabel: 'Round', colors: tab10,
    series: [[ns50Random, ns50RandomLo, ns50RandomHi], [ns50Qbc, ns50QbcLo, ns50QbcHi], [ns50Sbal, ns50SbalLo, ns50SbalHi], [ns50Lcmd, ns50LcmdLo, ns50LcmdHi], [ns50Flex, ns50FlexLo, ns50FlexHi]],
    yMin: 0.094, yMax: 0.1375, yTicks: ns50Ticks, dec: 2,
    col: 685, rowTop: 905, plot: [743, 923, 1015, 1127], titleY: 0, yLabX: 0, xLabY: 1153, capX: 889, capY: 1192, st: big, legend: 'tr' },
];

function rgba(hex, a) {
  const n = parseInt(hex.slice(1), 16);
  return `rgba(${(n >> 16) & 255},${(n >> 8) & 255},${n & 255},${a})`;
}

// frame, panel title and the seaborn-like legend box
const decor = {
  id: 'decor',
  beforeDatasetsDraw(chart, args, o) {
    const { ctx, chartArea: a } = chart;
    ctx.save();
    ctx.strokeStyle = '#d4d4d4';
    ctx.lineWidth = 1;
    ctx.strokeRect(Math.round(a.left) + 0.5, Math.round(a.top) + 0.5, Math.round(a.width) - 1, Math.round(a.height) - 1);
    ctx.restore();
  },
  afterDraw(chart, args, o) {
    const { ctx, chartArea: a } = chart;
    const st = o.st;
    ctx.save();
    if (o.title) {
      ctx.font = `${st.ls}px ${font}`;
      ctx.fillStyle = ink;
      ctx.textAlign = 'center';
      ctx.textBaseline = 'middle';
      ctx.fillText(o.title, (a.left + a.right) / 2, o.titleY);
    }
    const f = st.lg;
    ctx.font = `${f}px ${font}`;
    const textW = Math.max(...methods.map(m => ctx.measureText(m).width));
    const w = 0.46 * f + 2.25 * f + 0.66 * f + textW + 0.5 * f;
    const h = 9.45 * f;
    const inset = 0.45 * f;
    let x0, y0;
    if (o.legend === 'bl') { x0 = a.left + inset; y0 = a.bottom - inset - h; }
    else { x0 = a.right - inset - w; y0 = a.top + inset; }
    ctx.beginPath();
    ctx.roundRect(x0 + 0.5, y0 + 0.5, w, h, 0.3 * f);
    ctx.fillStyle = 'rgba(255,255,255,0.8)';
    ctx.fill();
    ctx.strokeStyle = '#cccccc';
    ctx.lineWidth = 0.8;
    ctx.stroke();
    ctx.fillStyle = ink;
    ctx.textBaseline = 'middle';
    ctx.textAlign = 'center';
    ctx.font = `${st.lgt}px ${font}`;
    ctx.fillText('Method', x0 + w / 2, y0 + 0.9 * f);
    ctx.textAlign = 'left';
    ctx.font = `${f}px ${font}`;
    methods.forEach((m, i) => {
      const cy = y0 + 2.5 * f + i * 1.5 * f;
      ctx.strokeStyle = o.colors[i];
      ctx.lineWidth = st.lw * 1.15;
      ctx.beginPath();
      ctx.moveTo(x0 + 0.46 * f, cy);
      ctx.lineTo(x0 + 2.71 * f, cy);
      ctx.stroke();
      ctx.fillText(m, x0 + 3.37 * f, cy);
    });
    ctx.restore();
  }
};

function makePanel(p) {
  const st = p.st;
  const [l, t, r, b] = p.plot;
  const cLeft = p.col, cTop = p.rowTop;
  const cRight = Math.min(r + 6, 1016);
  const cBottom = p.xLabY + 10;
  const cw = cRight - cLeft, ch = cBottom - cTop;
  const lh = st.ls * 1.2;

  const canvas = document.createElement('canvas');
  canvas.width = cw; canvas.height = ch;
  canvas.style.left = cLeft + 'px';
  canvas.style.top = cTop + 'px';
  canvas.style.width = cw + 'px';
  canvas.style.height = ch + 'px';
  document.body.appendChild(canvas);

  const datasets = [];
  p.series.forEach((s, i) => {
    const col = p.colors[i];
    const pts = arr => steps.map((x, k) => ({ x: x, y: arr[k] }));
    datasets.push({ data: pts(s[2]), borderWidth: 0, pointRadius: 0, fill: '+1', backgroundColor: rgba(col, 0.2), order: 14 - i });
    datasets.push({ data: pts(s[1]), borderWidth: 0, pointRadius: 0, fill: false, order: 14 - i });
    datasets.push({ data: pts(s[0]), borderColor: col, borderWidth: st.lw, fill: false, tension: 0,
      pointRadius: st.pr, pointBackgroundColor: col, pointBorderColor: '#ffffff', pointBorderWidth: st.pb, order: 5 - i });
  });

  new Chart(canvas, {
    type: 'line',
    data: { datasets },
    plugins: [decor],
    options: {
      responsive: false,
      animation: false,
      devicePixelRatio: 1,
      layout: { padding: { left: 0, top: t - cTop, right: cRight - r, bottom: 0 } },
      plugins: {
        legend: { display: false },
        tooltip: { enabled: false },
        title: { display: false },
        decor: { st, title: p.title, titleY: p.titleY - cTop, colors: p.colors, legend: p.legend }
      },
      scales: {
        x: {
          type: 'linear', min: -0.5, max: 10.5,
          afterBuildTicks: sc => { sc.ticks = xTicks.map(v => ({ value: v })); },
          afterFit: sc => { sc.height = cBottom - b; },
          grid: { color: '#e4e4e4', lineWidth: 1, drawTicks: false },
          border: { display: false },
          ticks: { color: ink, padding: st.xtp, autoSkip: false, maxRotation: 0, font: { family: font, size: st.fs }, callback: v => String(v) },
          title: { display: true, text: p.xLabel, color: ink, font: { family: font, size: st.ls }, padding: { top: 0, bottom: cBottom - p.xLabY - lh / 2 } }
        },
        y: {
          type: 'linear', min: p.yMin, max: p.yMax,
          afterBuildTicks: sc => { sc.ticks = p.yTicks.map(v => ({ value: v })); },
          afterFit: sc => { sc.width = l - cLeft; },
          grid: { color: '#e4e4e4', lineWidth: 1, drawTicks: false },
          border: { display: false },
          ticks: { color: ink, padding: st.ytp, font: { family: font, size: st.fs }, callback: v => Number(v).toFixed(p.dec) },
          title: { display: !!p.yLabel, text: p.yLabel, color: ink, font: { family: font, size: st.ls }, padding: { top: p.yLabX - cLeft - lh / 2, bottom: 0 } }
        }
      }
    }
  });

  const cap = document.createElement('div');
  cap.className = 'cap';
  cap.style.left = (p.capX - 180) + 'px';
  cap.style.top = (p.capY - 12) + 'px';
  const bold = document.createElement('b');
  bold.textContent = p.tag;
  cap.appendChild(bold);
  cap.appendChild(document.createTextNode(' ' + p.cap));
  document.body.appendChild(cap);
}

panels.forEach(makePanel);
</script>
</body>
</html>
